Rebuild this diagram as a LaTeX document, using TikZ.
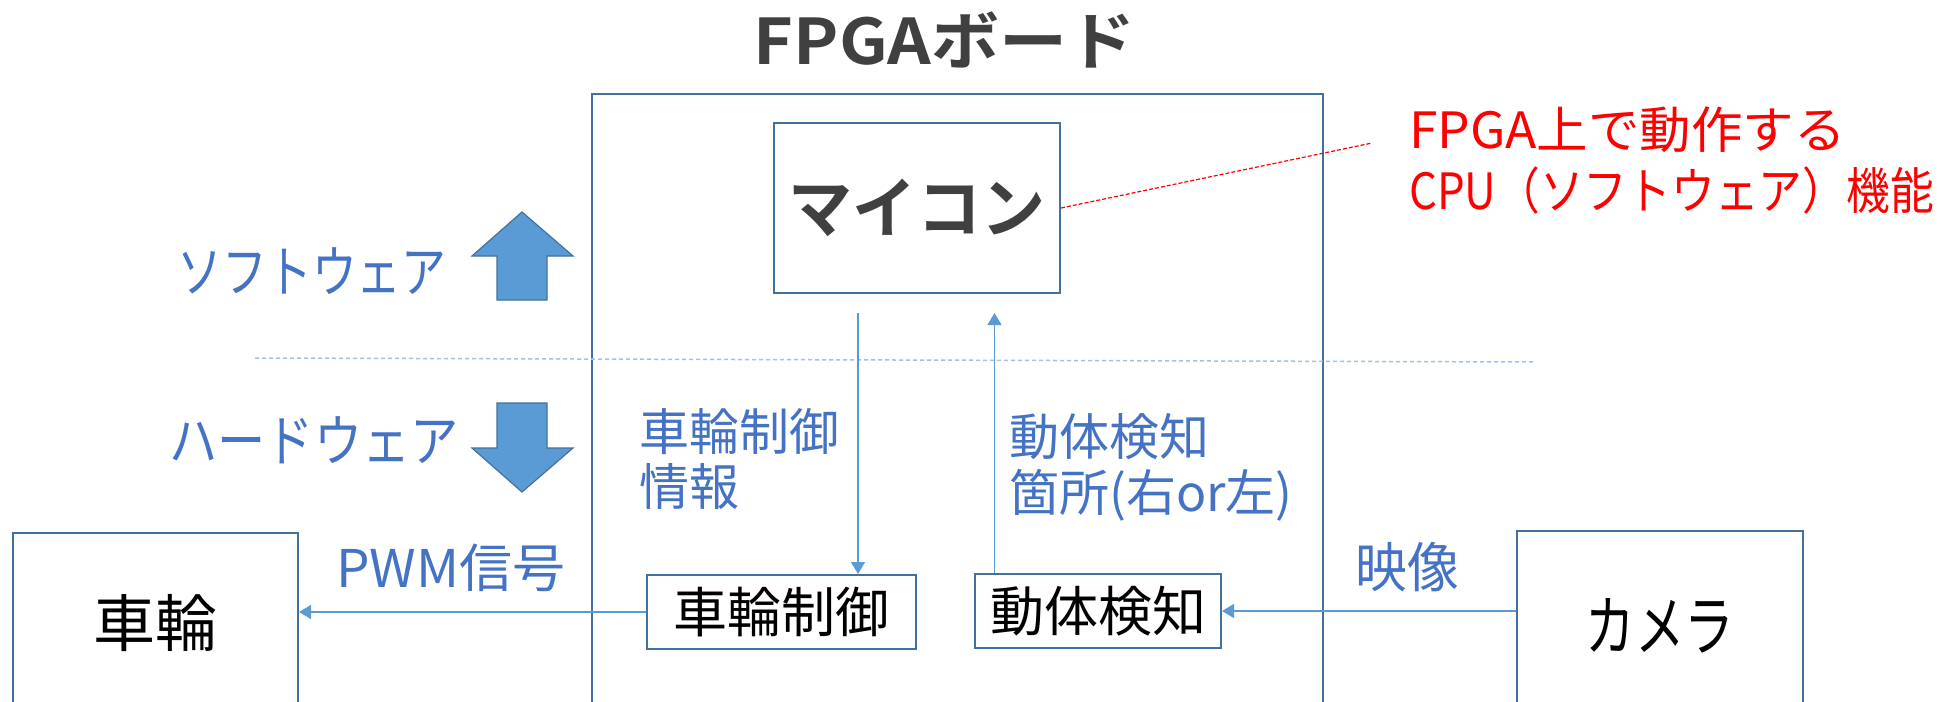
\documentclass[tikz,border=0pt]{standalone}
\usepackage{fontspec}
\usepackage{graphicx}
\usetikzlibrary{arrows.meta}
\setmainfont{Noto Sans CJK JP}
\newfontfamily\jpb{Noto Sans CJK JP Bold}
\definecolor{boxc}{HTML}{41719C}
\definecolor{linec}{HTML}{5B9BD5}
\definecolor{dashc}{HTML}{9DC3E6}
\definecolor{lblc}{HTML}{4472C4}
\definecolor{darkt}{HTML}{404040}
\definecolor{redt}{HTML}{FF0000}
\newcommand\sx[2]{\scalebox{#1}[1]{#2}}
\newcommand\fs[1]{\fontsize{#1}{#1}\selectfont}
\tikzset{
  blk/.style={draw=boxc, line width=2pt, inner sep=0pt, fill=white},
  arr/.style={draw=linec, line width=1.4pt, -{Triangle[length=12pt,width=14pt]}},
  lbl/.style={text=lblc, inner sep=0pt},
  blockarrow/.style={fill=linec, draw=boxc, line width=1.2pt},
}
\begin{document}
\begin{tikzpicture}[x=1pt,y=-1pt]
\useasboundingbox (0,0) rectangle (1945,701);
\clip (0,0) rectangle (1945,701);
% title
\node[inner sep=0pt, text=darkt] (title) at (944.5,40) {\jpb\fs{63}\sx{1.08}{FPGAボード}};
% board
\node[blk, fill=none, minimum width=731pt, minimum height=660pt, anchor=north west] (board) at (591,93) {};
% mcu
\node[blk, minimum width=286pt, minimum height=170pt] (mcu) at (917,208) {\jpb\fs{66}\textcolor{darkt}{\sx{0.97}{マイコン}}};
% control
\node[blk, minimum width=269pt, minimum height=74pt] (ctrl) at (781.5,612) {\fs{54}車輪制御};
% detect
\node[blk, minimum width=246pt, minimum height=74pt] (det) at (1098,611) {\fs{54}動体検知};
% wheel
\node[blk, minimum width=285pt, minimum height=180pt] (wheel) at (155.5,623) {\fs{62}車輪};
% camera
\node[blk, minimum width=286pt, minimum height=190pt] (cam) at (1660,626) {\fs{66}\sx{0.75}{カメラ}};
% separator
\coordinate (s1) at (255,358);
\coordinate (s2) at (1536,362);
\draw[dashc, line width=1.5pt, dash pattern=on 4pt off 3pt] (s1) -- (s2);
% block arrows
\draw[blockarrow] (522,212) -- (573,256) -- (547,256) -- (547,300) -- (497,300) -- (497,256) -- (472,256) -- cycle;
\draw[blockarrow] (522,492) -- (573,448) -- (547,448) -- (547,403) -- (497,403) -- (497,448) -- (472,448) -- cycle;
% labels
\node[lbl] (sw) at (312,271) {\fs{56}\sx{0.8}{ソフトウェア}};
\node[lbl] (hw) at (314,440) {\fs{56}\sx{0.86}{ハードウェア}};
\node[lbl, anchor=north west] (ctrlinfo) at (639,408) {\fs{50}\begin{tabular}{@{}l@{}}車輪制御\\[-1.5pt]情報\end{tabular}};
\node[lbl, anchor=north west] (detinfo) at (1009,413) {\fs{50}\begin{tabular}{@{}l@{}}動体検知\\[-1.5pt]箇所(右or左)\end{tabular}};
\node[lbl] (pwm) at (451,568) {\fs{52}\sx{1.02}{PWM信号}};
\node[lbl] (video) at (1407,567) {\fs{54}\sx{0.96}{映像}};
% red note
\node[text=redt, inner sep=0pt, anchor=north west, align=left] (note) at (1409,106) {\fs{50}\sx{1.03}{FPGA上で動作する}\\[13pt]\fs{50}\sx{0.875}{CPU（ソフトウェア）機能}};
\coordinate (nt) at (1372,143);
\draw[redt, line width=1.2pt, dash pattern=on 4pt off 2pt] (mcu.east) -- (nt);
% connectors
\coordinate (c1) at (858,313);
\coordinate (c2) at (994.5,313);
\draw[arr] (c1) -- (c1 |- ctrl.north);
\draw[arr] (c2 |- det.north) -- (c2);
\draw[arr] (ctrl.west) -- (wheel.east |- ctrl.west);
\draw[arr] (cam.west |- det.east) -- (det.east);
\end{tikzpicture}
\end{document}
